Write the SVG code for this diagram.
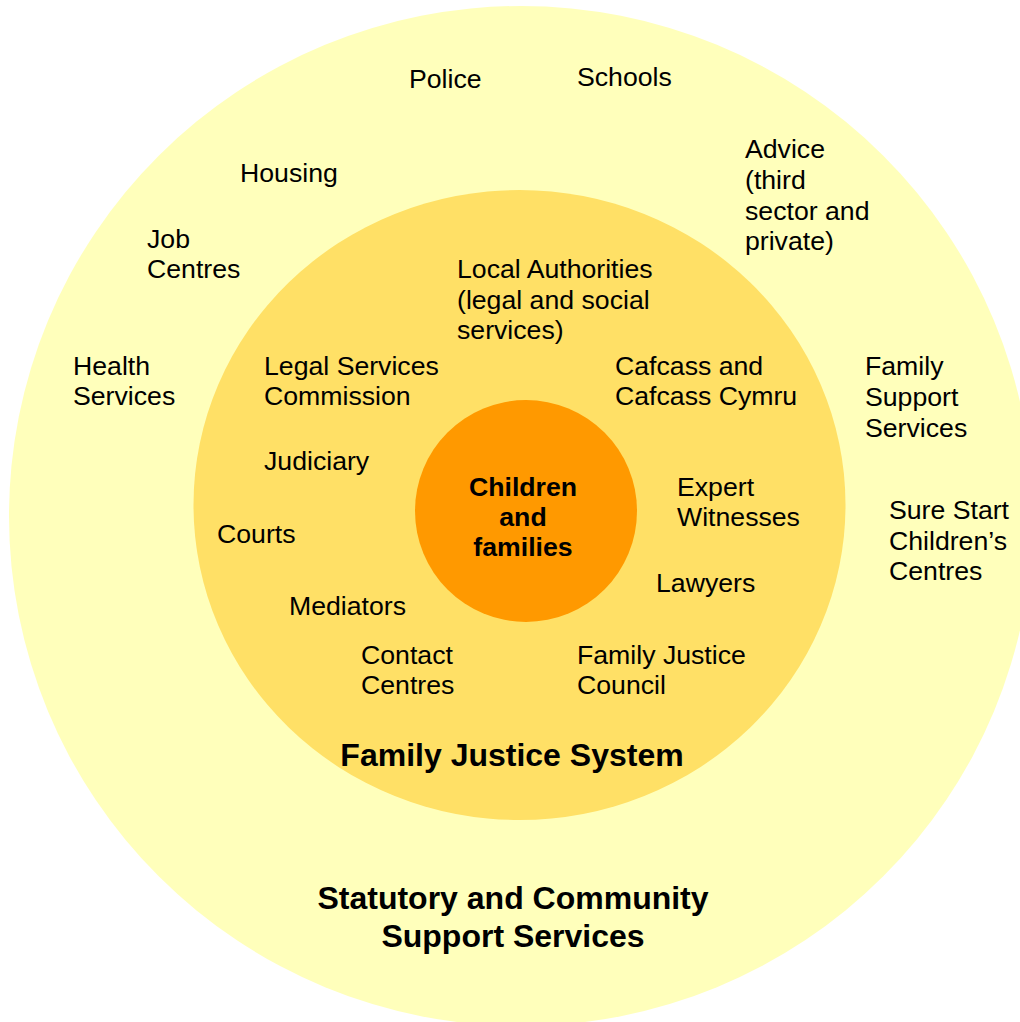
<svg xmlns="http://www.w3.org/2000/svg" width="1020" height="1022" viewBox="0 0 1020 1022">
<style>
text{font-family:"Liberation Sans",Arial,sans-serif;fill:#000}
.t{font-size:26.67px}
.b{font-size:26.67px;font-weight:bold;text-anchor:middle}
.h{font-size:32px;font-weight:bold;text-anchor:middle}
</style>
<rect width="1020" height="1022" fill="#fff"/>
<g id="ring-outer"><ellipse cx="521" cy="516" rx="512" ry="510" fill="#FFFFBB"/></g>
<g id="ring-middle"><ellipse cx="519.5" cy="505" rx="326" ry="315" fill="#FFE066"/></g>
<g id="ring-inner"><circle cx="526" cy="511" r="111" fill="#FF9900"/></g>
<g id="connectors"/>
<g id="n-children"><text class="b" x="523" y="496">Children</text><text class="b" x="523" y="526">and</text><text class="b" x="523" y="556">families</text></g>
<g id="n-fjs"><text class="h" x="512" y="766">Family Justice System</text></g>
<g id="n-scss"><text class="h" x="513" y="909">Statutory and Community</text><text class="h" x="513" y="947">Support Services</text></g>
<g id="n-police"><text class="t" x="409" y="88">Police</text></g>
<g id="n-schools"><text class="t" x="577" y="86">Schools</text></g>
<g id="n-housing"><text class="t" x="240" y="182">Housing</text></g>
<g id="n-advice"><text class="t" x="745" y="158">Advice</text><text class="t" x="745" y="189">(third</text><text class="t" x="745" y="220">sector and</text><text class="t" x="745" y="250">private)</text></g>
<g id="n-job"><text class="t" x="147" y="248">Job</text><text class="t" x="147" y="278">Centres</text></g>
<g id="n-la"><text class="t" x="457" y="278">Local Authorities</text><text class="t" x="457" y="309">(legal and social</text><text class="t" x="457" y="339">services)</text></g>
<g id="n-health"><text class="t" x="73" y="375">Health</text><text class="t" x="73" y="405">Services</text></g>
<g id="n-lsc"><text class="t" x="264" y="375">Legal Services</text><text class="t" x="264" y="405">Commission</text></g>
<g id="n-cafcass"><text class="t" x="615" y="375">Cafcass and</text><text class="t" x="615" y="405">Cafcass Cymru</text></g>
<g id="n-fss"><text class="t" x="865" y="375">Family</text><text class="t" x="865" y="406">Support</text><text class="t" x="865" y="437">Services</text></g>
<g id="n-judiciary"><text class="t" x="264" y="470">Judiciary</text></g>
<g id="n-expert"><text class="t" x="677" y="496">Expert</text><text class="t" x="677" y="526">Witnesses</text></g>
<g id="n-surestart"><text class="t" x="889" y="519">Sure Start</text><text class="t" x="889" y="550">Children’s</text><text class="t" x="889" y="580">Centres</text></g>
<g id="n-courts"><text class="t" x="217" y="543">Courts</text></g>
<g id="n-lawyers"><text class="t" x="656" y="592">Lawyers</text></g>
<g id="n-mediators"><text class="t" x="289" y="615">Mediators</text></g>
<g id="n-contact"><text class="t" x="361" y="664">Contact</text><text class="t" x="361" y="694">Centres</text></g>
<g id="n-fjc"><text class="t" x="577" y="664">Family Justice</text><text class="t" x="577" y="694">Council</text></g>
</svg>
